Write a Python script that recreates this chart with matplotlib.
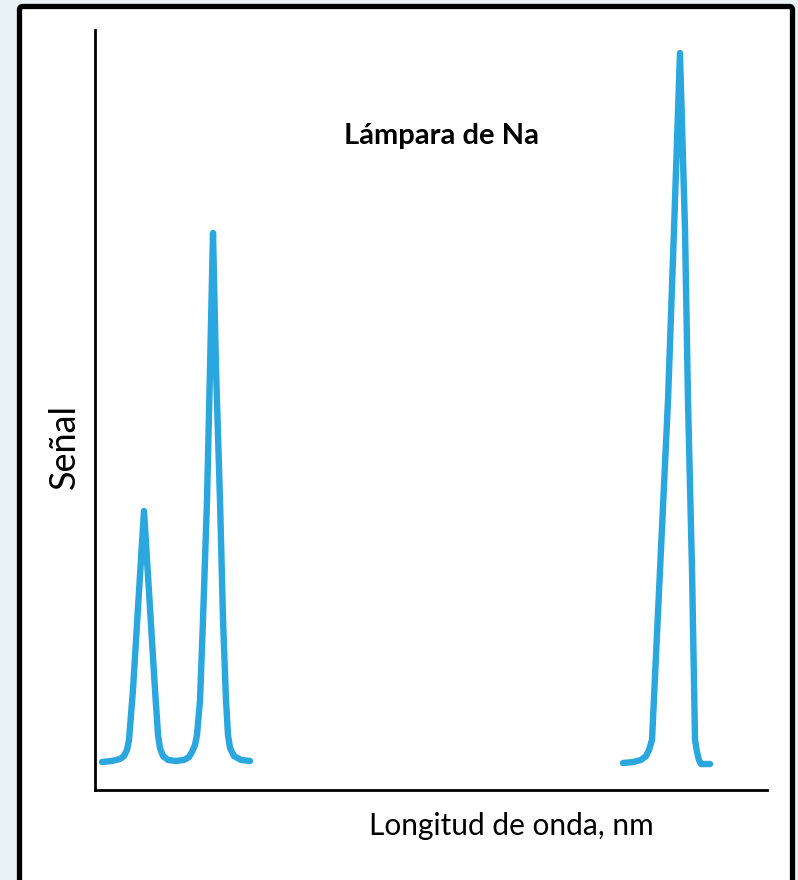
import numpy as np
import matplotlib
matplotlib.use("Agg")
import matplotlib.pyplot as plt
from matplotlib.patches import FancyBboxPatch

# ---- data (arbitrary units) ----
# trace with the two left Na lines (joined at the baseline)
x_left = [1.04, 2.53, 3.72, 4.32, 4.76, 5.06, 5.65, 6.47, 7.29, 8.11, 8.93, 9.38,
          9.67, 10.12, 10.86, 12.05, 13.24, 13.99, 14.43, 14.88, 15.18, 15.63,
          16.07, 16.67, 17.11, 17.56, 18.01, 18.60, 19.05, 19.49, 19.79, 20.09,
          20.68, 21.73, 23.07]
y_left = [3.68, 3.82, 4.08, 4.47, 5.26, 6.58, 13.16, 25.0, 36.71, 25.0, 13.16, 7.24,
          5.53, 4.47, 3.95, 3.82, 3.95, 4.34, 5.0, 5.92, 7.24, 11.84,
          22.37, 38.16, 55.26, 73.29, 55.26, 38.16, 22.37, 11.84, 7.24, 5.53,
          4.47, 3.95, 3.82]
# trace with the strongest line on the right
x_right = [78.57, 80.06, 81.25, 82.0, 82.44, 82.89, 84.08, 85.27, 86.16, 87.05,
           87.80, 88.24, 88.84, 89.29, 89.58, 89.88, 90.18, 91.52]
y_right = [3.55, 3.68, 3.95, 4.47, 5.26, 6.58, 28.95, 51.32, 73.68, 96.97,
           73.68, 51.32, 28.95, 6.58, 5.0, 3.95, 3.42, 3.42]

title_text = "Lámpara de Na"
xlabel_text = "Longitud de onda, nm"
ylabel_text = "Señal"

# ---- figure ----
W, H = 798, 880
fig = plt.figure(figsize=(W / 100, H / 100), dpi=100)
fig.patch.set_facecolor("#E9F3F5")

# white framed panel
frame = FancyBboxPatch((19.5 / W, -0.05), (792.5 - 19.5) / W, (880 - 6.5) / H + 0.05,
                       boxstyle="round,pad=0,rounding_size=0.004",
                       transform=fig.transFigure, facecolor="white",
                       edgecolor="black", linewidth=3.8, zorder=-5)
fig.patches.append(frame)

ax = fig.add_axes([95 / W, (H - 790) / H, (767 - 95) / W, (790 - 30) / H])
ax.set_zorder(2)
ax.set_facecolor("none")
ax.set_xlim(0, 100)
ax.set_ylim(0, 100)

line_color = "#2AA7DF"
for xs, ys in [(x_left, y_left), (x_right, y_right)]:
    ax.plot(xs, ys, color=line_color, linewidth=4.6,
            solid_joinstyle="round", solid_capstyle="round")

for s in ["top", "right"]:
    ax.spines[s].set_visible(False)
for s in ["left", "bottom"]:
    ax.spines[s].set_linewidth(2.0)
    ax.spines[s].set_color("black")
ax.set_xticks([])
ax.set_yticks([])

fam = ["Lato", "DejaVu Sans"]
fig.text(441 / W, 1 - 136 / H, title_text, ha="center", va="center",
         fontsize=21, fontweight="bold", family=fam)
fig.text(511 / W, 1 - 826 / H, xlabel_text, ha="center", va="center",
         fontsize=21.5, family=fam)
fig.text(64 / W, 1 - 446 / H, ylabel_text, ha="center", va="center",
         fontsize=26, rotation=90, family=fam)

fig.savefig("out.png", dpi=100)
